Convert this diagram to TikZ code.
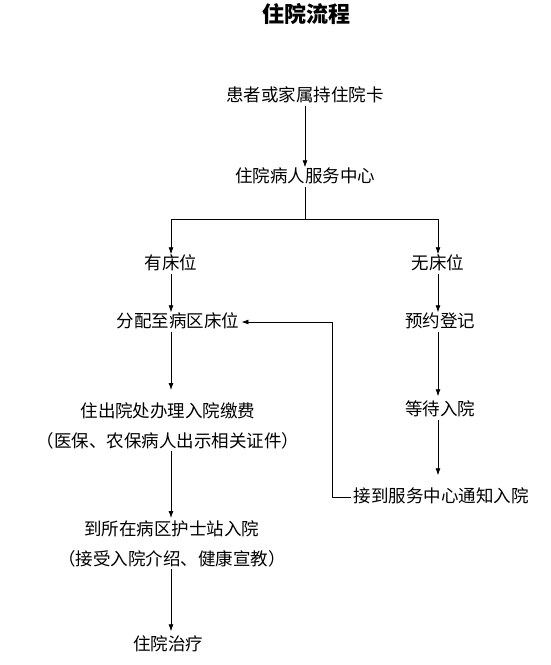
\documentclass[tikz,border=0pt]{standalone}
\usepackage{fontspec}
\setmainfont{Noto Sans CJK SC}
\usepackage{tikz}
\usetikzlibrary{arrows.meta, positioning, calc}

\begin{document}
\begin{tikzpicture}[
    x=1pt, y=-1pt,
    rotulo/.style={
        inner sep=2pt,
        align=center,
        font=\fontsize{17.5}{30}\selectfont
    },
    umalinha/.style={
        rotulo,
        text height=13pt,
        text depth=2pt
    },
    titulo/.style={
        inner sep=0pt,
        font=\fontsize{22}{26}\selectfont\bfseries
    },
    seta/.style={
        -{Latex[length=7pt,width=5pt]},
        line width=0.8pt
    },
    linha/.style={
        line width=0.8pt
    }
]
\useasboundingbox (0,0) rectangle (551,665);

\node[titulo] (titulo) at (306,14) {住院流程};

\node[umalinha] (paciente) at (305,96) {患者或家属持住院卡};
\node[umalinha] (centro) at (305,177) {住院病人服务中心};

\node[umalinha] (temleito) at (171,264) {有床位};
\node[umalinha] (semleito) at (438,264) {无床位};

\node[umalinha] (alocar) at (178,322) {分配至病区床位};
\node[umalinha] (reserva) at (440,322) {预约登记};

\node[rotulo, anchor=north] (pagar) at (168,400) {住出院处办理入院缴费\\（医保、农保病人出示相关证件）};
\node[umalinha] (esperar) at (440,410) {等待入院};

\node[umalinha] (aviso) at (441,497) {接到服务中心通知入院};

\node[rotulo, anchor=north] (enfermaria) at (172,518) {到所在病区护士站入院\\（接受入院介绍、健康宣教）};

\node[umalinha] (tratar) at (168,645) {住院治疗};

\coordinate (divisao) at (305,219);

\draw[seta] (paciente) -- (centro);
\draw[linha] (centro) -- (divisao);
\draw[seta] (divisao) -| (temleito);
\draw[seta] (divisao) -| (semleito);

\draw[seta] (temleito) -- (temleito |- alocar.north);
\draw[seta, shorten >=10pt] (temleito |- alocar.south) -- (temleito |- pagar.north);
\draw[seta] (temleito |- pagar.south) -- (temleito |- enfermaria.north);
\draw[seta, shorten >=4pt] (temleito |- enfermaria.south) -- (temleito |- tratar.north);

\draw[seta] (semleito) -- (semleito |- reserva.north);
\draw[seta, shorten >=4pt] (semleito |- reserva.south) -- (semleito |- esperar.north);
\draw[seta, shorten >=12pt] (semleito |- esperar.south) -- (semleito |- aviso.north);

\draw[seta] (aviso.west) -- ++(-19,0) |- (alocar.east);

\end{tikzpicture}
\end{document}
